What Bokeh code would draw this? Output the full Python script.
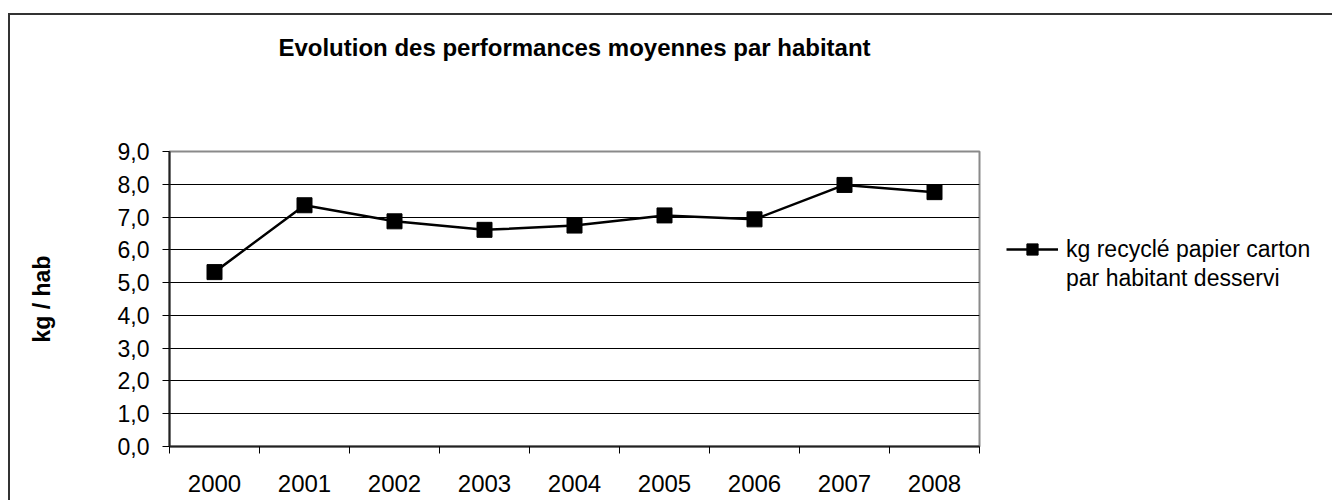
import math
from bokeh.plotting import figure
from bokeh.models import Range1d, FixedTicker, Legend, LegendItem, LinearAxis, Grid
from bokeh.embed import file_html
from bokeh.resources import INLINE

years = ["2000", "2001", "2002", "2003", "2004", "2005", "2006", "2007", "2008"]
values = [5.32, 7.36, 6.87, 6.61, 6.74, 7.05, 6.93, 7.98, 7.76]
y_ticks = [0, 1, 2, 3, 4, 5, 6, 7, 8, 9]
y_tick_labels = ["0,0", "1,0", "2,0", "3,0", "4,0", "5,0", "6,0", "7,0", "8,0", "9,0"]
series_lines = ["kg recyclé papier carton", "par habitant desservi"]
title_text = "Evolution des performances moyennes par habitant"
y_title = "kg / hab"

FONT = "Liberation Sans"
n = len(years)
xs = [i + 0.5 for i in range(n)]

p = figure(frame_width=810, frame_height=295, output_backend="svg", toolbar_location=None,
           x_range=Range1d(0, n), y_range=Range1d(0, 9),
           min_border_left=159, min_border_right=0, min_border_top=136, min_border_bottom=54,
           x_axis_type=None, y_axis_type=None)
p.margin = (13, 0, 0, 8)
p.styles = {"border-left": "2px solid #333333", "border-top": "2px solid #333333"}
p.background_fill_color = "white"
p.border_fill_color = "white"
p.outline_line_color = "#8a8a8a"
p.outline_line_width = 2

# title as the label of an empty axis above the frame
top_axis = LinearAxis(ticker=FixedTicker(ticks=[], minor_ticks=[]), axis_label=title_text)
top_axis.axis_line_color = None
top_axis.major_tick_out = 0
top_axis.major_tick_in = 0
top_axis.axis_label_standoff = 91
top_axis.axis_label_text_font = FONT
top_axis.axis_label_text_font_style = "bold"
top_axis.axis_label_text_font_size = "24px"
top_axis.axis_label_text_color = "black"
p.add_layout(top_axis, "above")

xaxis = LinearAxis(ticker=FixedTicker(ticks=xs, minor_ticks=list(range(n + 1))),
                   major_label_overrides={x: y for x, y in zip(xs, years)})
xaxis.major_tick_in = 0
xaxis.major_tick_out = 0
xaxis.minor_tick_in = 0
xaxis.minor_tick_out = 7
xaxis.minor_tick_line_color = "black"
xaxis.minor_tick_line_width = 1
xaxis.axis_line_color = "#222222"
xaxis.axis_line_width = 2
xaxis.major_label_standoff = 21
xaxis.major_label_text_font = FONT
xaxis.major_label_text_font_size = "24px"
xaxis.major_label_text_color = "black"
p.add_layout(xaxis, "below")

yaxis = LinearAxis(ticker=FixedTicker(ticks=y_ticks, minor_ticks=[]),
                   major_label_overrides={t: s for t, s in zip(y_ticks, y_tick_labels)},
                   axis_label=y_title)
yaxis.major_tick_in = 0
yaxis.major_tick_out = 7
yaxis.major_tick_line_color = "black"
yaxis.axis_line_color = "#222222"
yaxis.axis_line_width = 2
yaxis.major_label_standoff = 13
yaxis.major_label_text_font = FONT
yaxis.major_label_text_font_size = "23px"
yaxis.major_label_text_color = "black"
yaxis.axis_label_standoff = 60
yaxis.axis_label_text_font = FONT
yaxis.axis_label_text_font_style = "bold"
yaxis.axis_label_text_font_size = "23px"
yaxis.axis_label_text_color = "black"
p.add_layout(yaxis, "left")

grid = Grid(dimension=1, ticker=yaxis.ticker, grid_line_color="black", grid_line_width=1)
p.add_layout(grid)

line_r = p.line(xs, values, line_color="black", line_width=2.5)
scat_r = p.scatter(xs, values, marker="square", size=15, fill_color="black", line_color="black")
blank_r = p.line([], [], line_alpha=0)

legend = Legend(items=[LegendItem(label=series_lines[0], renderers=[line_r, scat_r]),
                       LegendItem(label=series_lines[1], renderers=[blank_r])],
                location=(27, 154), padding=0, margin=0, spacing=1, border_line_color=None,
                background_fill_alpha=0, glyph_width=52, glyph_height=28, label_standoff=8,
                label_height=28,
                label_text_font=FONT, label_text_font_size="23px", label_text_color="black")
p.add_layout(legend, "right")

open("out.html", "w").write(file_html(p, INLINE))
